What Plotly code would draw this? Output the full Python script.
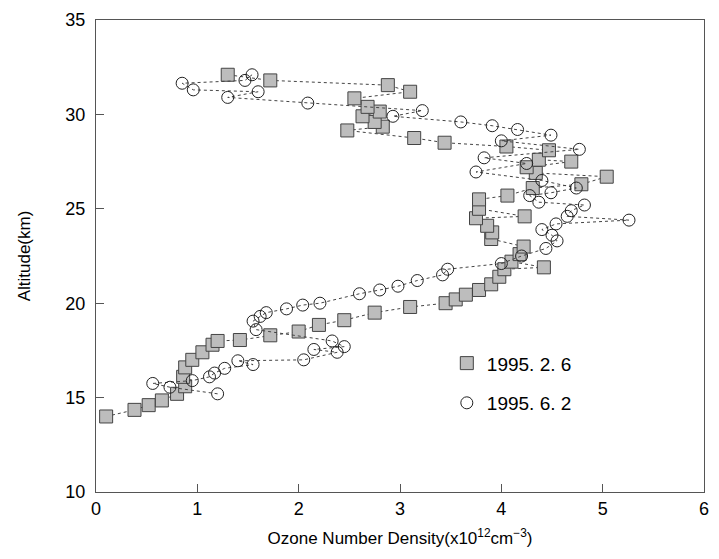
import plotly.graph_objects as go

# 1995.2.6 (squares): ozone density (x10^12 cm^-3), altitude (km)
feb_density = [0.10, 0.38, 0.52, 0.65, 0.80, 0.88, 0.86, 0.88, 0.95, 1.05, 1.15, 1.20,
               1.42, 1.72, 2.00, 2.20, 2.45, 2.75, 3.10, 3.45, 3.55, 3.65, 3.78, 3.90,
               3.98, 4.03, 4.42, 4.10, 4.18, 4.22, 3.90, 3.91, 3.86, 3.75, 4.23, 3.78,
               3.78, 4.06, 4.31, 4.79, 5.04, 4.34, 4.25, 4.69, 4.37, 4.47, 4.05, 3.44,
               3.14, 2.48, 2.83, 2.75, 2.63, 2.80, 2.68, 2.55, 3.10, 2.88, 1.72, 1.30]
feb_altitude = [14.0, 14.35, 14.6, 14.85, 15.2, 15.6, 16.1, 16.6, 17.0, 17.4, 17.8, 18.0,
                18.05, 18.3, 18.5, 18.85, 19.1, 19.5, 19.8, 20.0, 20.2, 20.45, 20.7, 21.0,
                21.4, 21.8, 21.9, 22.2, 22.6, 23.0, 23.4, 23.75, 24.1, 24.5, 24.6, 25.0,
                25.5, 25.7, 26.1, 26.3, 26.7, 26.9, 27.2, 27.5, 27.6, 28.1, 28.3, 28.5,
                28.75, 29.15, 29.35, 29.6, 29.9, 30.15, 30.4, 30.85, 31.2, 31.55, 31.8, 32.1]

# 1995.6.2 (circles)
jun_density = [1.20, 0.73, 0.56, 0.95, 1.12, 1.17, 1.27, 1.55, 1.40, 2.05, 2.38, 2.15,
               2.45, 2.33, 1.58, 1.55, 1.62, 1.68, 1.88, 2.04, 2.21, 2.60, 2.80, 2.98,
               3.17, 3.42, 3.47, 4.00, 4.20, 4.44, 4.55, 4.50, 4.40, 4.54, 5.26, 4.65,
               4.69, 4.82, 4.37, 4.28, 4.49, 4.74, 4.40, 3.75, 4.25, 3.83, 4.77, 4.00,
               4.49, 4.16, 3.91, 3.60, 2.93, 3.22, 2.09, 1.30, 1.60, 0.96, 0.85, 1.47, 1.54]
jun_altitude = [15.2, 15.55, 15.75, 15.9, 16.1, 16.3, 16.55, 16.75, 16.95, 17.0, 17.4, 17.55,
                17.7, 18.0, 18.6, 19.05, 19.3, 19.5, 19.7, 19.9, 20.0, 20.5, 20.7, 20.9,
                21.2, 21.5, 21.8, 22.1, 22.5, 22.9, 23.3, 23.6, 23.9, 24.2, 24.4, 24.6,
                24.9, 25.2, 25.35, 25.7, 25.85, 26.1, 26.5, 26.95, 27.4, 27.7, 28.15, 28.6,
                28.9, 29.2, 29.4, 29.6, 29.9, 30.2, 30.6, 30.9, 31.2, 31.3, 31.65, 31.8, 32.1]

series_names = ["1995. 2. 6", "1995. 6. 2"]
x_ticks = [0, 1, 2, 3, 4, 5, 6]
y_ticks = [10, 15, 20, 25, 30, 35]

FONT = "Liberation Sans"

fig = go.Figure()

fig.add_trace(go.Scatter(
    x=feb_density, y=feb_altitude, mode="lines+markers", showlegend=False,
    line=dict(color="#444444", width=1, dash="dot"),
    marker=dict(symbol="square", size=13, color="#bdbdbd",
                line=dict(color="#444444", width=1)),
))
fig.add_trace(go.Scatter(
    x=jun_density, y=jun_altitude, mode="lines+markers", showlegend=False,
    line=dict(color="#444444", width=1, dash="dot"),
    marker=dict(symbol="circle-open", size=12, color="#222222",
                line=dict(color="#222222", width=1)),
))

# legend-only entries (marker only)
fig.add_trace(go.Scatter(
    x=[None], y=[None], mode="markers", name=series_names[0], legendgroup="a",
    marker=dict(symbol="square", size=13, color="#bdbdbd",
                line=dict(color="#444444", width=1)),
))
fig.add_trace(go.Scatter(
    x=[None], y=[None], mode="markers", name=series_names[1], legendgroup="b",
    marker=dict(symbol="circle-open", size=12, color="#222222",
                line=dict(color="#222222", width=1)),
))

fig.update_layout(
    width=719, height=559,
    margin=dict(l=96, r=14, t=10, b=67),
    paper_bgcolor="white", plot_bgcolor="white",
    font=dict(family=FONT, color="black", size=18),
    legend=dict(x=0.577, y=0.313, xanchor="left", yanchor="top",
                bgcolor="rgba(0,0,0,0)", font=dict(size=19, family=FONT),
                tracegroupgap=12, traceorder="grouped", itemwidth=30),
    xaxis=dict(
        range=[0, 6], tickvals=x_ticks, ticktext=[str(v) for v in x_ticks],
        ticks="inside", ticklen=8, tickcolor="#555555",
        showline=True, mirror=True, linecolor="#555555", linewidth=1,
        showgrid=False, zeroline=False, ticklabeloverflow="allow",
        tickfont=dict(size=18, family=FONT),
        title=dict(text="Ozone Number Density(x10<sup>12</sup>cm<sup>\u22123</sup>)",
                   font=dict(size=17, family=FONT), standoff=14),
    ),
    yaxis=dict(
        range=[10, 35], tickvals=y_ticks, ticktext=[str(v) for v in y_ticks],
        ticks="inside", ticklen=8, tickcolor="#555555",
        showline=True, mirror=True, linecolor="#555555", linewidth=1,
        showgrid=False, zeroline=False, ticklabeloverflow="allow",
        tickfont=dict(size=18, family=FONT), ticklabelstandoff=6,
        title=dict(text="Altitude(km)", font=dict(size=17, family=FONT), standoff=30),
    ),
)

fig.write_html("out.html", config={"displayModeBar": False},
               post_script="document.body.style.margin='0';document.body.style.padding='0';")
